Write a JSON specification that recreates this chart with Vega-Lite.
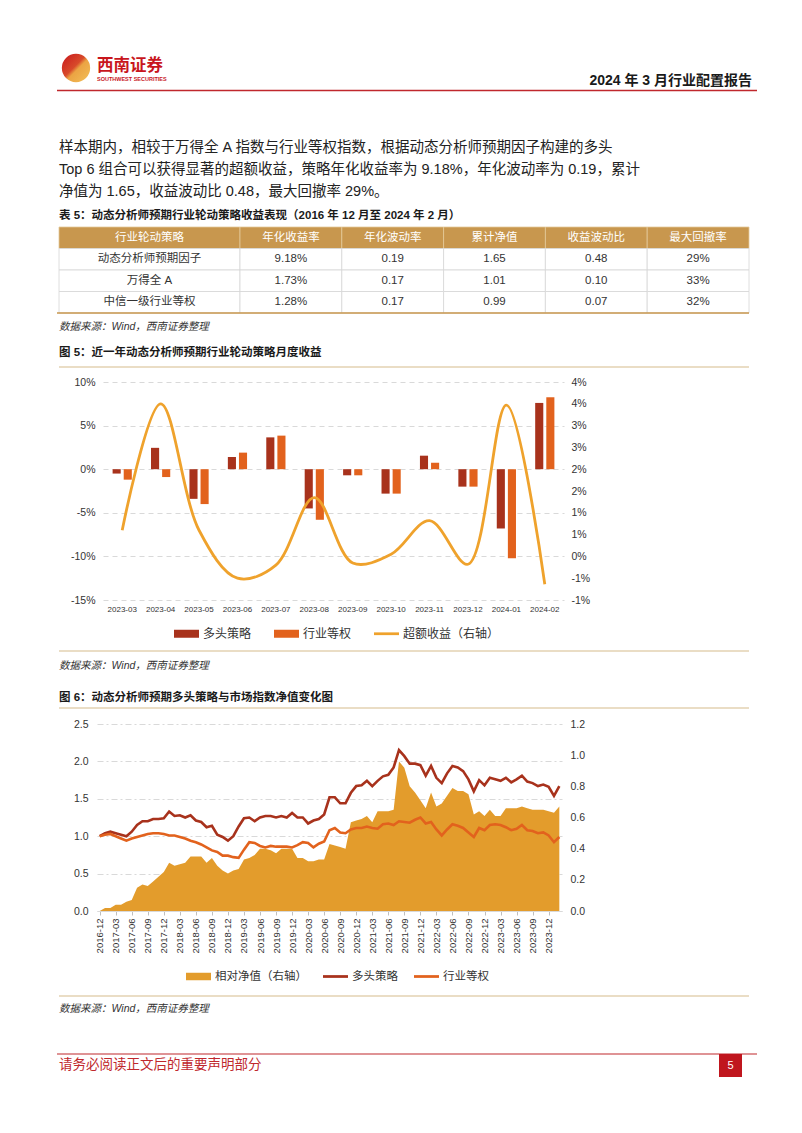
{
  "$schema": "https://vega.github.io/schema/vega-lite/v6.json",
  "background": "white",
  "padding": {"left": 55, "top": 42, "right": 0, "bottom": 0},
  "autosize": {"type": "pad"},
  "config": {
    "view": {"stroke": "transparent"},
    "axis": {"labelFont": "Liberation Sans, Noto Sans CJK SC"},
    "legend": {"labelFont": "Liberation Sans, Noto Sans CJK SC"},
    "text": {"font": "Liberation Sans, Noto Sans CJK SC"}
  },
  "datasets": {
    "tbl": [
      {"row": "h", "col": "行业轮动策略", "v": "行业轮动策略"},
      {"row": "h", "col": "年化收益率", "v": "年化收益率"},
      {"row": "h", "col": "年化波动率", "v": "年化波动率"},
      {"row": "h", "col": "累计净值", "v": "累计净值"},
      {"row": "h", "col": "收益波动比", "v": "收益波动比"},
      {"row": "h", "col": "最大回撤率", "v": "最大回撤率"},
      {"row": "1", "col": "行业轮动策略", "v": "动态分析师预期因子"},
      {"row": "1", "col": "年化收益率", "v": "9.18%"},
      {"row": "1", "col": "年化波动率", "v": "0.19"},
      {"row": "1", "col": "累计净值", "v": "1.65"},
      {"row": "1", "col": "收益波动比", "v": "0.48"},
      {"row": "1", "col": "最大回撤率", "v": "29%"},
      {"row": "2", "col": "行业轮动策略", "v": "万得全 A"},
      {"row": "2", "col": "年化收益率", "v": "1.73%"},
      {"row": "2", "col": "年化波动率", "v": "0.17"},
      {"row": "2", "col": "累计净值", "v": "1.01"},
      {"row": "2", "col": "收益波动比", "v": "0.10"},
      {"row": "2", "col": "最大回撤率", "v": "33%"},
      {"row": "3", "col": "行业轮动策略", "v": "中信一级行业等权"},
      {"row": "3", "col": "年化收益率", "v": "1.28%"},
      {"row": "3", "col": "年化波动率", "v": "0.17"},
      {"row": "3", "col": "累计净值", "v": "0.99"},
      {"row": "3", "col": "收益波动比", "v": "0.07"},
      {"row": "3", "col": "最大回撤率", "v": "32%"}
    ],
    "m5": [
      {"month": "2023-03", "多头策略": -0.5, "行业等权": -1.2, "超额收益": 0.6},
      {"month": "2023-04", "多头策略": 2.45, "行业等权": -0.9, "超额收益": 3.5},
      {"month": "2023-05", "多头策略": -3.4, "行业等权": -4.0, "超额收益": 0.6},
      {"month": "2023-06", "多头策略": 1.4, "行业等权": 1.9, "超额收益": -0.5},
      {"month": "2023-07", "多头策略": 3.65, "行业等权": 3.85, "超额收益": -0.2},
      {"month": "2023-08", "多头策略": -4.5, "行业等权": -5.8, "超额收益": 1.35},
      {"month": "2023-09", "多头策略": -0.7, "行业等权": -0.7, "超额收益": -0.15},
      {"month": "2023-10", "多头策略": -2.8, "行业等权": -2.8, "超额收益": 0.05},
      {"month": "2023-11", "多头策略": 1.55, "行业等权": 0.74, "超额收益": 0.82},
      {"month": "2023-12", "多头策略": -2.0, "行业等权": -2.0, "超额收益": -0.18},
      {"month": "2024-01", "多头策略": -6.8, "行业等权": -10.2, "超额收益": 3.47},
      {"month": "2024-02", "多头策略": 7.6, "行业等权": 8.25, "超额收益": -0.64}
    ],
    "m6": [
      {"m": "2016-12", "多头策略": 1.00, "行业等权": 1.00, "相对净值": 0.00},
      {"m": "2017-01", "多头策略": 1.04, "行业等权": 1.02, "相对净值": 0.02},
      {"m": "2017-02", "多头策略": 1.06, "行业等权": 1.03, "相对净值": 0.02},
      {"m": "2017-03", "多头策略": 1.04, "行业等权": 1.00, "相对净值": 0.04},
      {"m": "2017-04", "多头策略": 1.02, "行业等权": 0.97, "相对净值": 0.04},
      {"m": "2017-05", "多头策略": 1.00, "行业等权": 0.94, "相对净值": 0.06},
      {"m": "2017-06", "多头策略": 1.06, "行业等权": 0.97, "相对净值": 0.07},
      {"m": "2017-07", "多头策略": 1.15, "行业等权": 0.99, "相对净值": 0.15},
      {"m": "2017-08", "多头策略": 1.20, "行业等权": 1.01, "相对净值": 0.17},
      {"m": "2017-09", "多头策略": 1.20, "行业等权": 1.03, "相对净值": 0.16},
      {"m": "2017-10", "多头策略": 1.23, "行业等权": 1.04, "相对净值": 0.19},
      {"m": "2017-11", "多头策略": 1.23, "行业等权": 1.04, "相对净值": 0.22},
      {"m": "2017-12", "多头策略": 1.24, "行业等权": 1.03, "相对净值": 0.25},
      {"m": "2018-01", "多头策略": 1.33, "行业等权": 1.01, "相对净值": 0.31},
      {"m": "2018-02", "多头策略": 1.27, "行业等权": 1.01, "相对净值": 0.29},
      {"m": "2018-03", "多头策略": 1.28, "行业等权": 0.99, "相对净值": 0.30},
      {"m": "2018-04", "多头策略": 1.25, "行业等权": 0.97, "相对净值": 0.31},
      {"m": "2018-05", "多头策略": 1.28, "行业等权": 0.94, "相对净值": 0.35},
      {"m": "2018-06", "多头策略": 1.21, "行业等权": 0.92, "相对净值": 0.35},
      {"m": "2018-07", "多头策略": 1.19, "行业等权": 0.89, "相对净值": 0.35},
      {"m": "2018-08", "多头策略": 1.12, "行业等权": 0.85, "相对净值": 0.31},
      {"m": "2018-09", "多头策略": 1.14, "行业等权": 0.81, "相对净值": 0.34},
      {"m": "2018-10", "多头策略": 1.02, "行业等权": 0.79, "相对净值": 0.29},
      {"m": "2018-11", "多头策略": 0.99, "行业等权": 0.74, "相对净值": 0.26},
      {"m": "2018-12", "多头策略": 0.94, "行业等权": 0.74, "相对净值": 0.24},
      {"m": "2019-01", "多头策略": 1.00, "行业等权": 0.72, "相对净值": 0.26},
      {"m": "2019-02", "多头策略": 1.13, "行业等权": 0.71, "相对净值": 0.27},
      {"m": "2019-03", "多头策略": 1.24, "行业等权": 0.82, "相对净值": 0.33},
      {"m": "2019-04", "多头策略": 1.25, "行业等权": 0.92, "相对净值": 0.34},
      {"m": "2019-05", "多头策略": 1.20, "行业等权": 0.91, "相对净值": 0.36},
      {"m": "2019-06", "多头策略": 1.25, "行业等权": 0.87, "相对净值": 0.40},
      {"m": "2019-07", "多头策略": 1.27, "行业等权": 0.85, "相对净值": 0.40},
      {"m": "2019-08", "多头策略": 1.27, "行业等权": 0.87, "相对净值": 0.39},
      {"m": "2019-09", "多头策略": 1.25, "行业等权": 0.86, "相对净值": 0.37},
      {"m": "2019-10", "多头策略": 1.27, "行业等权": 0.86, "相对净值": 0.40},
      {"m": "2019-11", "多头策略": 1.25, "行业等权": 0.86, "相对净值": 0.40},
      {"m": "2019-12", "多头策略": 1.31, "行业等权": 0.85, "相对净值": 0.40},
      {"m": "2020-01", "多头策略": 1.25, "行业等权": 0.88, "相对净值": 0.34},
      {"m": "2020-02", "多头策略": 1.25, "行业等权": 0.92, "相对净值": 0.34},
      {"m": "2020-03", "多头策略": 1.17, "行业等权": 0.91, "相对净值": 0.32},
      {"m": "2020-04", "多头策略": 1.21, "行业等权": 0.85, "相对净值": 0.32},
      {"m": "2020-05", "多头策略": 1.23, "行业等权": 0.90, "相对净值": 0.33},
      {"m": "2020-06", "多头策略": 1.29, "行业等权": 0.93, "相对净值": 0.33},
      {"m": "2020-07", "多头策略": 1.52, "行业等权": 1.08, "相对净值": 0.43},
      {"m": "2020-08", "多头策略": 1.52, "行业等权": 1.11, "相对净值": 0.42},
      {"m": "2020-09", "多头策略": 1.44, "行业等权": 1.05, "相对净值": 0.41},
      {"m": "2020-10", "多头策略": 1.44, "行业等权": 1.04, "相对净值": 0.40},
      {"m": "2020-11", "多头策略": 1.58, "行业等权": 1.09, "相对净值": 0.57},
      {"m": "2020-12", "多头策略": 1.67, "行业等权": 1.11, "相对净值": 0.58},
      {"m": "2021-01", "多头策略": 1.68, "行业等权": 1.11, "相对净值": 0.59},
      {"m": "2021-02", "多头策略": 1.74, "行业等权": 1.13, "相对净值": 0.61},
      {"m": "2021-03", "多头策略": 1.67, "行业等权": 1.11, "相对净值": 0.57},
      {"m": "2021-04", "多头策略": 1.74, "行业等权": 1.10, "相对净值": 0.64},
      {"m": "2021-05", "多头策略": 1.80, "行业等权": 1.16, "相对净值": 0.64},
      {"m": "2021-06", "多头策略": 1.82, "行业等权": 1.17, "相对净值": 0.64},
      {"m": "2021-07", "多头策略": 1.92, "行业等权": 1.15, "相对净值": 0.65},
      {"m": "2021-08", "多头策略": 2.15, "行业等权": 1.20, "相对净值": 0.96},
      {"m": "2021-09", "多头策略": 2.07, "行业等权": 1.19, "相对净值": 0.92},
      {"m": "2021-10", "多头策略": 1.97, "行业等权": 1.18, "相对净值": 0.80},
      {"m": "2021-11", "多头策略": 1.97, "行业等权": 1.22, "相对净值": 0.76},
      {"m": "2021-12", "多头策略": 1.95, "行业等权": 1.25, "相对净值": 0.71},
      {"m": "2022-01", "多头策略": 1.81, "行业等权": 1.17, "相对净值": 0.66},
      {"m": "2022-02", "多头策略": 1.94, "行业等权": 1.19, "相对净值": 0.76},
      {"m": "2022-03", "多头策略": 1.78, "行业等权": 1.09, "相对净值": 0.67},
      {"m": "2022-04", "多头策略": 1.71, "行业等权": 1.01, "相对净值": 0.69},
      {"m": "2022-05", "多头策略": 1.84, "行业等权": 1.09, "相对净值": 0.74},
      {"m": "2022-06", "多头策略": 1.94, "行业等权": 1.16, "相对净值": 0.79},
      {"m": "2022-07", "多头策略": 1.92, "行业等权": 1.14, "相对净值": 0.77},
      {"m": "2022-08", "多头策略": 1.87, "行业等权": 1.11, "相对净值": 0.77},
      {"m": "2022-09", "多头策略": 1.76, "行业等权": 1.05, "相对净值": 0.75},
      {"m": "2022-10", "多头策略": 1.60, "行业等权": 0.99, "相对净值": 0.62},
      {"m": "2022-11", "多头策略": 1.75, "行业等权": 1.11, "相对净值": 0.64},
      {"m": "2022-12", "多头策略": 1.68, "行业等权": 1.08, "相对净值": 0.61},
      {"m": "2023-01", "多头策略": 1.78, "行业等权": 1.15, "相对净值": 0.65},
      {"m": "2023-02", "多头策略": 1.76, "行业等权": 1.16, "相对净值": 0.61},
      {"m": "2023-03", "多头策略": 1.74, "行业等权": 1.15, "相对净值": 0.61},
      {"m": "2023-04", "多头策略": 1.78, "行业等权": 1.12, "相对净值": 0.66},
      {"m": "2023-05", "多头策略": 1.72, "行业等权": 1.08, "相对净值": 0.66},
      {"m": "2023-06", "多头策略": 1.76, "行业等权": 1.10, "相对净值": 0.66},
      {"m": "2023-07", "多头策略": 1.81, "行业等权": 1.15, "相对净值": 0.67},
      {"m": "2023-08", "多头策略": 1.73, "行业等权": 1.08, "相对净值": 0.66},
      {"m": "2023-09", "多头策略": 1.71, "行业等权": 1.07, "相对净值": 0.65},
      {"m": "2023-10", "多头策略": 1.67, "行业等权": 1.04, "相对净值": 0.65},
      {"m": "2023-11", "多头策略": 1.69, "行业等权": 1.05, "相对净值": 0.65},
      {"m": "2023-12", "多头策略": 1.66, "行业等权": 1.01, "相对净值": 0.64},
      {"m": "2024-01", "多头策略": 1.54, "行业等权": 0.92, "相对净值": 0.63},
      {"m": "2024-02", "多头策略": 1.67, "行业等权": 0.99, "相对净值": 0.67}
    ]
  },
  "spacing": 0,
  "bounds": "flush",
  "resolve": {"scale": {"color": "independent", "x": "independent", "y": "independent"}, "legend": {"color": "independent"}},
  "vconcat": [
    {
      "width": 700,
      "height": 184,
      "layer": [
        {
          "data": {"values": [{"k": "logo"}]},
          "mark": {"type": "point", "filled": true, "size": 800, "opacity": 1, "strokeWidth": 0,
            "color": {"gradient": "linear", "x1": 0, "y1": 0, "x2": 1, "y2": 1, "stops": [
              {"offset": 0, "color": "#C8161D"}, {"offset": 0.45, "color": "#D84A2A"},
              {"offset": 0.55, "color": "#EBA343"}, {"offset": 1, "color": "#F3C15A"}]}},
          "encoding": {
            "x": {"datum": 74, "type": "quantitative", "scale": {"domain": [55, 755], "nice": false, "zero": false}, "axis": null},
            "y": {"datum": 67, "type": "quantitative", "scale": {"domain": [42, 226], "reverse": true, "nice": false, "zero": false}, "axis": null}
          }
        },
        {
          "data": {"values": [{"t": "西南证券"}]},
          "mark": {"type": "text", "align": "left", "baseline": "middle", "fontSize": 16.5, "fontWeight": "bold", "color": "#C8161D", "font": "Noto Sans CJK SC"},
          "encoding": {
            "x": {"datum": 95, "type": "quantitative", "scale": {"domain": [55, 755], "nice": false, "zero": false}, "axis": null},
            "y": {"datum": 65, "type": "quantitative", "scale": {"domain": [42, 226], "reverse": true, "nice": false, "zero": false}, "axis": null},
            "text": {"field": "t"}
          }
        },
        {
          "data": {"values": [{"t": "SOUTHWEST SECURITIES"}]},
          "mark": {"type": "text", "align": "left", "baseline": "middle", "fontSize": 5.5, "fontWeight": "bold", "color": "#C8161D", "font": "Liberation Sans"},
          "encoding": {
            "x": {"datum": 95, "type": "quantitative", "scale": {"domain": [55, 755], "nice": false, "zero": false}, "axis": null},
            "y": {"datum": 78, "type": "quantitative", "scale": {"domain": [42, 226], "reverse": true, "nice": false, "zero": false}, "axis": null},
            "text": {"field": "t"}
          }
        },
        {
          "data": {"values": [{"t": "2024 年 3 月行业配置报告"}]},
          "mark": {"type": "text", "align": "right", "baseline": "middle", "fontSize": 14, "fontWeight": "bold", "color": "#1A1A1A"},
          "encoding": {
            "x": {"datum": 750, "type": "quantitative", "scale": {"domain": [55, 755], "nice": false, "zero": false}, "axis": null},
            "y": {"datum": 80, "type": "quantitative", "scale": {"domain": [42, 226], "reverse": true, "nice": false, "zero": false}, "axis": null},
            "text": {"field": "t"}
          }
        },
        {
          "data": {"values": [{"k": "redline"}]},
          "mark": {"type": "rule", "color": "#C0282D", "strokeWidth": 1.5},
          "encoding": {
            "x": {"datum": 55, "type": "quantitative", "scale": {"domain": [55, 755], "nice": false, "zero": false}, "axis": null},
            "x2": {"datum": 755},
            "y": {"datum": 89.5, "type": "quantitative", "scale": {"domain": [42, 226], "reverse": true, "nice": false, "zero": false}, "axis": null}
          }
        },
        {
          "data": {"values": [{"t": "　　样本期内，相较于万得全 A 指数与行业等权指数，根据动态分析师预期因子构建的多头\nTop 6 组合可以获得显著的超额收益，策略年化收益率为 9.18%，年化波动率为 0.19，累计\n净值为 1.65，收益波动比 0.48，最大回撤率 29%。"}]},
          "mark": {"type": "text", "align": "left", "baseline": "middle", "fontSize": 14.5, "color": "#222222", "lineBreak": "\n", "lineHeight": 22},
          "encoding": {
            "x": {"datum": 57, "type": "quantitative", "scale": {"domain": [55, 755], "nice": false, "zero": false}, "axis": null},
            "y": {"datum": 147, "type": "quantitative", "scale": {"domain": [42, 226], "reverse": true, "nice": false, "zero": false}, "axis": null},
            "text": {"field": "t"}
          }
        },
        {
          "data": {"values": [{"t": "表 5：动态分析师预期行业轮动策略收益表现（2016 年 12 月至 2024 年 2 月）"}]},
          "mark": {"type": "text", "align": "left", "baseline": "middle", "fontSize": 11.5, "fontWeight": "bold", "color": "#1A1A1A"},
          "encoding": {
            "x": {"datum": 57, "type": "quantitative", "scale": {"domain": [55, 755], "nice": false, "zero": false}, "axis": null},
            "y": {"datum": 215, "type": "quantitative", "scale": {"domain": [42, 226], "reverse": true, "nice": false, "zero": false}, "axis": null},
            "text": {"field": "t"}
          }
        }
      ]
    },
    {
      "width": 692,
      "height": 86,
      "data": {"name": "tbl"},
      "layer": [
        {
          "transform": [{"filter": "datum.col === '行业轮动策略'"}],
          "mark": {"type": "rect", "strokeWidth": 0.8},
          "encoding": {
            "x": {"field": "col", "type": "nominal", "scale": {"domain": ["行业轮动策略"], "range": [2, 183], "paddingInner": 0, "paddingOuter": 0}, "axis": null},
            "y": {"field": "row", "type": "nominal", "scale": {"domain": ["h", "1", "2", "3"], "paddingInner": 0, "paddingOuter": 0}, "axis": null},
            "fill": {"condition": {"test": "datum.row === 'h'", "value": "#C8974E"}, "value": "#FFFFFF"},
            "stroke": {"condition": {"test": "datum.row === 'h'", "value": "#E3C999"}, "value": "#D5D5D5"}
          }
        },
        {
          "transform": [{"filter": "datum.col === '行业轮动策略'"}],
          "mark": {"type": "text", "fontSize": 11.5, "baseline": "middle"},
          "encoding": {
            "x": {"field": "col", "type": "nominal", "scale": {"domain": ["行业轮动策略"], "range": [2, 183], "paddingInner": 0, "paddingOuter": 0}, "axis": null},
            "y": {"field": "row", "type": "nominal", "scale": {"domain": ["h", "1", "2", "3"], "paddingInner": 0, "paddingOuter": 0}, "axis": null},
            "text": {"field": "v"},
            "color": {"condition": {"test": "datum.row === 'h'", "value": "#FFFFFF"}, "value": "#333333"}
          }
        },
        {
          "transform": [{"filter": "datum.col !== '行业轮动策略'"}],
          "mark": {"type": "rect", "strokeWidth": 0.8},
          "encoding": {
            "x": {"field": "col", "type": "nominal", "scale": {"domain": ["年化收益率", "年化波动率", "累计净值", "收益波动比", "最大回撤率"], "range": [183, 692], "paddingInner": 0, "paddingOuter": 0}, "axis": null},
            "y": {"field": "row", "type": "nominal", "scale": {"domain": ["h", "1", "2", "3"], "paddingInner": 0, "paddingOuter": 0}, "axis": null},
            "fill": {"condition": {"test": "datum.row === 'h'", "value": "#C8974E"}, "value": "#FFFFFF"},
            "stroke": {"condition": {"test": "datum.row === 'h'", "value": "#E3C999"}, "value": "#D5D5D5"}
          }
        },
        {
          "transform": [{"filter": "datum.col !== '行业轮动策略'"}],
          "mark": {"type": "text", "fontSize": 11.5, "baseline": "middle"},
          "encoding": {
            "x": {"field": "col", "type": "nominal", "scale": {"domain": ["年化收益率", "年化波动率", "累计净值", "收益波动比", "最大回撤率"], "range": [183, 692], "paddingInner": 0, "paddingOuter": 0}, "axis": null},
            "y": {"field": "row", "type": "nominal", "scale": {"domain": ["h", "1", "2", "3"], "paddingInner": 0, "paddingOuter": 0}, "axis": null},
            "text": {"field": "v"},
            "color": {"condition": {"test": "datum.row === 'h'", "value": "#FFFFFF"}, "value": "#333333"}
          }
        },
        {
          "transform": [{"filter": "datum.row === '3' && datum.col === '行业轮动策略'"}],
          "mark": {"type": "rule", "color": "#C8974E", "strokeWidth": 1.5},
          "encoding": {
            "y": {"field": "row", "type": "nominal", "bandPosition": 1, "scale": {"domain": ["h", "1", "2", "3"], "paddingInner": 0, "paddingOuter": 0}, "axis": null}
          }
        }
      ],
      "resolve": {"scale": {"x": "independent"}}
    },
    {
      "width": 700,
      "height": 69,
      "layer": [
        {
          "data": {"values": [{"t": "数据来源：Wind，西南证券整理"}]},
          "mark": {"type": "text", "align": "left", "baseline": "middle", "fontSize": 10.5, "fontStyle": "italic", "color": "#333333"},
          "encoding": {
            "x": {"datum": 57, "type": "quantitative", "scale": {"domain": [55, 755], "nice": false, "zero": false}, "axis": null},
            "y": {"datum": 326, "type": "quantitative", "scale": {"domain": [312, 381], "reverse": true, "nice": false, "zero": false}, "axis": null},
            "text": {"field": "t"}
          }
        },
        {
          "data": {"values": [{"t": "图 5：近一年动态分析师预期行业轮动策略月度收益"}]},
          "mark": {"type": "text", "align": "left", "baseline": "middle", "fontSize": 11.5, "fontWeight": "bold", "color": "#1A1A1A"},
          "encoding": {
            "x": {"datum": 57, "type": "quantitative", "scale": {"domain": [55, 755], "nice": false, "zero": false}, "axis": null},
            "y": {"datum": 352, "type": "quantitative", "scale": {"domain": [312, 381], "reverse": true, "nice": false, "zero": false}, "axis": null},
            "text": {"field": "t"}
          }
        },
        {
          "data": {"values": [{"k": "goldline"}]},
          "mark": {"type": "rule", "color": "#D6BC8C", "strokeWidth": 1.2},
          "encoding": {
            "x": {"datum": 57, "type": "quantitative", "scale": {"domain": [55, 755], "nice": false, "zero": false}, "axis": null},
            "x2": {"datum": 747},
            "y": {"datum": 366, "type": "quantitative", "scale": {"domain": [312, 381], "reverse": true, "nice": false, "zero": false}, "axis": null}
          }
        }
      ]
    },
    {
      "width": 507,
      "height": 218,
      "data": {"name": "m5"},
      "layer": [
        {
          "transform": [{"fold": ["多头策略", "行业等权"], "as": ["series", "ret"]}],
          "mark": {"type": "bar"},
          "encoding": {
            "x": {"field": "month", "type": "ordinal", "scale": {"paddingInner": 0.5, "paddingOuter": 0.25, "range": [46, 507]},
              "axis": {"title": null, "labelAngle": 0, "labelFontSize": 8, "labelColor": "#333333", "domain": false, "ticks": false, "labelPadding": 5}},
            "xOffset": {"field": "series", "type": "nominal", "scale": {"domain": ["多头策略", "行业等权"], "paddingInner": 0.27}},
            "y": {"field": "ret", "type": "quantitative", "scale": {"domain": [-15, 10], "nice": false},
              "axis": {"title": null, "offset": -46, "values": [-15, -10, -5, 0, 5, 10], "labelExpr": "datum.value + '%'", "grid": true, "gridDash": [5, 4], "gridColor": "#D9D9D9", "domain": false, "ticks": false, "labelPadding": 8, "labelFontSize": 10.5, "labelColor": "#333333"}},
            "color": {"field": "series", "type": "nominal",
              "scale": {"domain": ["多头策略", "行业等权", "超额收益（右轴）"], "range": ["#A8321C", "#E2621D", "#EFA22C"]},
              "legend": {"title": null, "orient": "none", "legendX": 117, "legendY": 239, "direction": "horizontal",
                "symbolSize": 625, "labelFontSize": 12, "labelColor": "#333333", "columnPadding": 22, "labelOffset": 4, "symbolStrokeWidth": 0,
                "encode": {"symbols": {"update": {
                  "shape": {"signal": "datum.value === '超额收益（右轴）' ? 'M-1,-0.11H1V0.11H-1Z' : 'M-1,-0.32H1V0.32H-1Z'"},
                  "fill": {"signal": "datum.value === '多头策略' ? '#A8321C' : (datum.value === '行业等权' ? '#E2621D' : '#EFA22C')"},
                  "strokeWidth": {"value": 0},
                  "opacity": {"value": 1}}}}}}
          }
        },
        {
          "mark": {"type": "line", "interpolate": "catmull-rom", "strokeWidth": 2.8},
          "encoding": {
            "x": {"field": "month", "type": "ordinal"},
            "y": {"field": "超额收益", "type": "quantitative", "scale": {"domain": [-1, 4], "nice": false},
              "axis": {"title": null, "orient": "right", "values": [-1, -0.5, 0, 0.5, 1, 1.5, 2, 2.5, 3, 3.5, 4],
                "labelExpr": "(datum.value < 0 ? '-' : '') + round(abs(datum.value) + 0.0001) + '%'",
                "grid": false, "domain": false, "ticks": false, "labelPadding": 7, "labelFontSize": 10.5, "labelColor": "#333333"}},
            "color": {"datum": "超额收益（右轴）", "type": "nominal",
              "scale": {"domain": ["多头策略", "行业等权", "超额收益（右轴）"], "range": ["#A8321C", "#E2621D", "#EFA22C"]},
              "legend": {"title": null, "orient": "none", "legendX": 117, "legendY": 239, "direction": "horizontal",
                "symbolSize": 625, "labelFontSize": 12, "labelColor": "#333333", "columnPadding": 22, "labelOffset": 4, "symbolStrokeWidth": 0,
                "encode": {"symbols": {"update": {
                  "shape": {"signal": "datum.value === '超额收益（右轴）' ? 'M-1,-0.11H1V0.11H-1Z' : 'M-1,-0.32H1V0.32H-1Z'"},
                  "fill": {"signal": "datum.value === '多头策略' ? '#A8321C' : (datum.value === '行业等权' ? '#E2621D' : '#EFA22C')"},
                  "strokeWidth": {"value": 0},
                  "opacity": {"value": 1}}}}}}
          }
        }
      ],
      "resolve": {"scale": {"y": "independent"}}
    },
    {
      "width": 700,
      "height": 124,
      "layer": [
        {
          "data": {"values": [{"k": "goldline1"}]},
          "mark": {"type": "rule", "color": "#D6BC8C", "strokeWidth": 1.2},
          "encoding": {
            "x": {"datum": 57, "type": "quantitative", "scale": {"domain": [55, 755], "nice": false, "zero": false}, "axis": null},
            "x2": {"datum": 747},
            "y": {"datum": 650, "type": "quantitative", "scale": {"domain": [599, 723], "reverse": true, "nice": false, "zero": false}, "axis": null}
          }
        },
        {
          "data": {"values": [{"t": "数据来源：Wind，西南证券整理"}]},
          "mark": {"type": "text", "align": "left", "baseline": "middle", "fontSize": 10.5, "fontStyle": "italic", "color": "#333333"},
          "encoding": {
            "x": {"datum": 57, "type": "quantitative", "scale": {"domain": [55, 755], "nice": false, "zero": false}, "axis": null},
            "y": {"datum": 665, "type": "quantitative", "scale": {"domain": [599, 723], "reverse": true, "nice": false, "zero": false}, "axis": null},
            "text": {"field": "t"}
          }
        },
        {
          "data": {"values": [{"t": "图 6：动态分析师预期多头策略与市场指数净值变化图"}]},
          "mark": {"type": "text", "align": "left", "baseline": "middle", "fontSize": 11.5, "fontWeight": "bold", "color": "#1A1A1A"},
          "encoding": {
            "x": {"datum": 57, "type": "quantitative", "scale": {"domain": [55, 755], "nice": false, "zero": false}, "axis": null},
            "y": {"datum": 697, "type": "quantitative", "scale": {"domain": [599, 723], "reverse": true, "nice": false, "zero": false}, "axis": null},
            "text": {"field": "t"}
          }
        },
        {
          "data": {"values": [{"k": "goldline2"}]},
          "mark": {"type": "rule", "color": "#D6BC8C", "strokeWidth": 1.2},
          "encoding": {
            "x": {"datum": 57, "type": "quantitative", "scale": {"domain": [55, 755], "nice": false, "zero": false}, "axis": null},
            "x2": {"datum": 747},
            "y": {"datum": 707, "type": "quantitative", "scale": {"domain": [599, 723], "reverse": true, "nice": false, "zero": false}, "axis": null}
          }
        }
      ]
    },
    {
      "width": 505,
      "height": 187,
      "data": {"name": "m6"},
      "layer": [
        {
          "mark": {"type": "area", "opacity": 1},
          "encoding": {
            "x": {"field": "m", "type": "ordinal", "scale": {"type": "point", "padding": 0.5, "range": [40, 505]},
              "axis": {"title": null, "labelAngle": -90, "labelFontSize": 9.5, "labelColor": "#333333", "domain": true, "domainColor": "#D9D9D9", "ticks": true, "tickColor": "#BFBFBF", "tickSize": 4, "labelPadding": 3,
                "values": ["2016-12", "2017-03", "2017-06", "2017-09", "2017-12", "2018-03", "2018-06", "2018-09", "2018-12", "2019-03", "2019-06", "2019-09", "2019-12", "2020-03", "2020-06", "2020-09", "2020-12", "2021-03", "2021-06", "2021-09", "2021-12", "2022-03", "2022-06", "2022-09", "2022-12", "2023-03", "2023-06", "2023-09", "2023-12"]}},
            "y": {"field": "相对净值", "type": "quantitative", "scale": {"domain": [0, 1.2], "nice": false},
              "axis": {"title": null, "orient": "right", "values": [0, 0.2, 0.4, 0.6, 0.8, 1.0, 1.2], "format": ".1f", "grid": false, "domain": false, "ticks": false, "labelPadding": 8, "labelFontSize": 10.5, "labelColor": "#333333"}},
            "color": {"datum": "相对净值（右轴）", "type": "nominal",
              "scale": {"domain": ["相对净值（右轴）", "多头策略", "行业等权"], "range": ["#E39C2C", "#A8321C", "#E2621D"]},
              "legend": {"title": null, "orient": "none", "legendX": 129, "legendY": 240, "direction": "horizontal",
                "symbolSize": 625, "labelFontSize": 11.5, "labelColor": "#333333", "columnPadding": 16, "labelOffset": 4, "symbolStrokeWidth": 0,
                "encode": {"symbols": {"update": {
                  "shape": {"signal": "datum.value === '相对净值（右轴）' ? 'M-1,-0.3H1V0.3H-1Z' : 'M-1,-0.11H1V0.11H-1Z'"},
                  "fill": {"signal": "datum.value === '多头策略' ? '#A8321C' : (datum.value === '行业等权' ? '#E2621D' : '#E39C2C')"},
                  "strokeWidth": {"value": 0},
                  "opacity": {"value": 1}}}}}}
          }
        },
        {
          "transform": [{"fold": ["多头策略", "行业等权"], "as": ["series", "nav"]}],
          "mark": {"type": "line", "strokeWidth": 2.6},
          "encoding": {
            "x": {"field": "m", "type": "ordinal"},
            "y": {"field": "nav", "type": "quantitative", "scale": {"domain": [0, 2.5], "nice": false},
              "axis": {"title": null, "orient": "left", "offset": -40, "values": [0, 0.5, 1.0, 1.5, 2.0, 2.5], "format": ".1f", "grid": true, "gridDash": [6, 3, 2, 3], "gridColor": "#D9D9D9", "domain": false, "ticks": false, "labelPadding": 9, "labelFontSize": 10.5, "labelColor": "#333333"}},
            "color": {"field": "series", "type": "nominal",
              "scale": {"domain": ["相对净值（右轴）", "多头策略", "行业等权"], "range": ["#E39C2C", "#A8321C", "#E2621D"]},
              "legend": {"title": null, "orient": "none", "legendX": 129, "legendY": 240, "direction": "horizontal",
                "symbolSize": 625, "labelFontSize": 11.5, "labelColor": "#333333", "columnPadding": 16, "labelOffset": 4, "symbolStrokeWidth": 0,
                "encode": {"symbols": {"update": {
                  "shape": {"signal": "datum.value === '相对净值（右轴）' ? 'M-1,-0.3H1V0.3H-1Z' : 'M-1,-0.11H1V0.11H-1Z'"},
                  "fill": {"signal": "datum.value === '多头策略' ? '#A8321C' : (datum.value === '行业等权' ? '#E2621D' : '#E39C2C')"},
                  "strokeWidth": {"value": 0},
                  "opacity": {"value": 1}}}}}}
          }
        }
      ],
      "resolve": {"scale": {"y": "independent"}}
    },
    {
      "width": 700,
      "height": 170,
      "layer": [
        {
          "data": {"values": [{"k": "goldline3"}]},
          "mark": {"type": "rule", "color": "#D6BC8C", "strokeWidth": 1.2},
          "encoding": {
            "x": {"datum": 57, "type": "quantitative", "scale": {"domain": [55, 755], "nice": false, "zero": false}, "axis": null},
            "x2": {"datum": 747},
            "y": {"datum": 995, "type": "quantitative", "scale": {"domain": [910, 1080], "reverse": true, "nice": false, "zero": false}, "axis": null}
          }
        },
        {
          "data": {"values": [{"t": "数据来源：Wind，西南证券整理"}]},
          "mark": {"type": "text", "align": "left", "baseline": "middle", "fontSize": 10.5, "fontStyle": "italic", "color": "#333333"},
          "encoding": {
            "x": {"datum": 57, "type": "quantitative", "scale": {"domain": [55, 755], "nice": false, "zero": false}, "axis": null},
            "y": {"datum": 1008, "type": "quantitative", "scale": {"domain": [910, 1080], "reverse": true, "nice": false, "zero": false}, "axis": null},
            "text": {"field": "t"}
          }
        },
        {
          "data": {"values": [{"k": "redline2"}]},
          "mark": {"type": "rule", "color": "#C0282D", "strokeWidth": 1.2},
          "encoding": {
            "x": {"datum": 55, "type": "quantitative", "scale": {"domain": [55, 755], "nice": false, "zero": false}, "axis": null},
            "x2": {"datum": 755},
            "y": {"datum": 1053, "type": "quantitative", "scale": {"domain": [910, 1080], "reverse": true, "nice": false, "zero": false}, "axis": null}
          }
        },
        {
          "data": {"values": [{"t": "请务必阅读正文后的重要声明部分"}]},
          "mark": {"type": "text", "align": "left", "baseline": "middle", "fontSize": 13.5, "color": "#C0282D", "font": "Noto Sans CJK SC"},
          "encoding": {
            "x": {"datum": 57, "type": "quantitative", "scale": {"domain": [55, 755], "nice": false, "zero": false}, "axis": null},
            "y": {"datum": 1064, "type": "quantitative", "scale": {"domain": [910, 1080], "reverse": true, "nice": false, "zero": false}, "axis": null},
            "text": {"field": "t"}
          }
        },
        {
          "data": {"values": [{"k": "pagebox"}]},
          "mark": {"type": "rect", "color": "#C0161E"},
          "encoding": {
            "x": {"datum": 717, "type": "quantitative", "scale": {"domain": [55, 755], "nice": false, "zero": false}, "axis": null},
            "x2": {"datum": 740},
            "y": {"datum": 1053, "type": "quantitative", "scale": {"domain": [910, 1080], "reverse": true, "nice": false, "zero": false}, "axis": null},
            "y2": {"datum": 1076}
          }
        },
        {
          "data": {"values": [{"t": "5"}]},
          "mark": {"type": "text", "align": "center", "baseline": "middle", "fontSize": 11, "color": "#FFFFFF"},
          "encoding": {
            "x": {"datum": 728.5, "type": "quantitative", "scale": {"domain": [55, 755], "nice": false, "zero": false}, "axis": null},
            "y": {"datum": 1065, "type": "quantitative", "scale": {"domain": [910, 1080], "reverse": true, "nice": false, "zero": false}, "axis": null},
            "text": {"field": "t"}
          }
        }
      ]
    }
  ]
}
